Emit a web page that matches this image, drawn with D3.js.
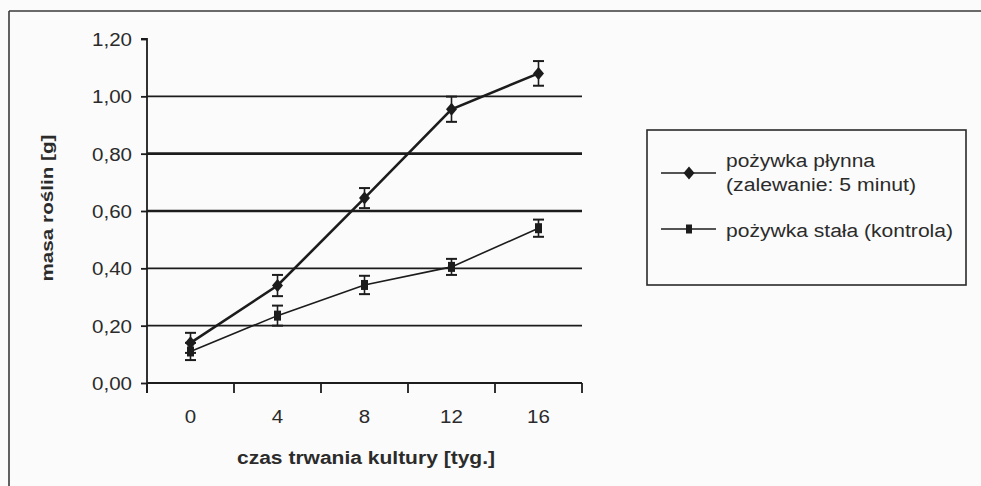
<!DOCTYPE html>
<html><head><meta charset="utf-8">
<script src="https://cdn.jsdelivr.net/npm/d3@7/dist/d3.min.js"></script>
<style>
html,body{margin:0;padding:0;background:#fbfbfb;}
svg{display:block;}
text{font-family:"Liberation Sans",Arial,sans-serif;fill:#2b2b2b;}
</style></head>
<body>
<svg id="chart" width="981" height="486"></svg>
<script>
const categories = ["0","4","8","12","16"];
const yTicks = [0,0.2,0.4,0.6,0.8,1.0,1.2];
const gridValues = [0.2,0.4,0.6,0.8,1.0];
const liquidValues = [0.14,0.34,0.645,0.955,1.08];
const liquidErrors = [0.035,0.037,0.035,0.044,0.043];
const solidValues = [0.11,0.235,0.342,0.405,0.54];
const solidErrors = [0.03,0.035,0.032,0.028,0.03];
const seriesNames = ["pożywka płynna", "(zalewanie: 5 minut)", "pożywka stała (kontrola)"];
const xTitle = "czas trwania kultury [tyg.]";
const yTitle = "masa roślin [g]";

const svg = d3.select("#chart");
const ink = "#1c1c1c";

// outer frame (top and left edges visible)
svg.append("line").attr("x1",9).attr("x2",981).attr("y1",11).attr("y2",11).attr("stroke","#3a3a3a").attr("stroke-width",1.6);
svg.append("line").attr("x1",9).attr("x2",9).attr("y1",11).attr("y2",486).attr("stroke","#3a3a3a").attr("stroke-width",1.6);

const x = d3.scaleBand().domain(categories).range([147,582]).padding(0);
const y = d3.scaleLinear().domain([0,1.2]).range([383,39]);

// gridlines
svg.append("g").selectAll("line").data(gridValues).join("line")
  .attr("x1",147).attr("x2",582)
  .attr("y1",d=>y(d)).attr("y2",d=>y(d))
  .attr("stroke",ink)
  .attr("stroke-width",d=>(Math.abs(d-0.6)<1e-6||Math.abs(d-0.8)<1e-6)?2.6:1.6);

// y axis
const yAxis = d3.axisLeft(y).tickValues(yTicks).tickSize(6).tickPadding(9)
  .tickFormat(d=>d3.format(".2f")(d).replace(".",","));
const gy = svg.append("g").attr("transform","translate(147,0)").call(yAxis);
gy.select(".domain").attr("stroke",ink).attr("stroke-width",1.8).attr("d","M-6,39H0V393");
gy.selectAll(".tick line").attr("stroke",ink).attr("stroke-width",1.8);
gy.selectAll(".tick text").attr("font-size",18).attr("fill","#2b2b2b").attr("dy","0.36em")
  .attr("textLength",40).attr("lengthAdjust","spacingAndGlyphs");

// x axis (ticks between categories)
const xTickPos = categories.map(c=>x(c)).concat([x.range()[1]]);
const gx = svg.append("g");
gx.append("line").attr("x1",147).attr("x2",582).attr("y1",y(0)).attr("y2",y(0)).attr("stroke",ink).attr("stroke-width",1.8);
gx.selectAll(".xt").data(xTickPos).join("line").attr("class","xt")
  .attr("x1",d=>d).attr("x2",d=>d).attr("y1",y(0)).attr("y2",y(0)+10)
  .attr("stroke",ink).attr("stroke-width",1.8);
gx.selectAll(".xl").data(categories).join("text").attr("class","xl")
  .attr("x",d=>x(d)+x.bandwidth()/2).attr("y",423)
  .attr("text-anchor","middle").attr("font-size",18).text(d=>d)
  .each(function(d){ d3.select(this).attr("textLength", d.length*11.4).attr("lengthAdjust","spacingAndGlyphs"); });

// titles
svg.append("text").attr("x",366).attr("y",464).attr("text-anchor","middle")
  .attr("font-size",18).attr("font-weight","bold")
  .attr("textLength",258).attr("lengthAdjust","spacingAndGlyphs").text(xTitle);
svg.append("text").attr("transform","translate(53,208) rotate(-90)").attr("text-anchor","middle")
  .attr("font-size",16).attr("font-weight","bold")
  .attr("textLength",147).attr("lengthAdjust","spacingAndGlyphs").text(yTitle);

const cx = c=>x(c)+x.bandwidth()/2;
const line = d3.line().x(d=>cx(d.c)).y(d=>y(d.v));

function drawSeries(vals, errs, lw, marker){
  const data = categories.map((c,i)=>({c, v:vals[i], e:errs[i]}));
  svg.append("path").datum(data).attr("d",line).attr("fill","none").attr("stroke",ink).attr("stroke-width",lw);
  const g = svg.append("g");
  data.forEach(d=>{
    const px = cx(d.c), top=y(d.v+d.e), bot=y(d.v-d.e);
    g.append("line").attr("x1",px).attr("x2",px).attr("y1",top).attr("y2",bot).attr("stroke",ink).attr("stroke-width",1.6);
    g.append("line").attr("x1",px-5.5).attr("x2",px+5.5).attr("y1",top).attr("y2",top).attr("stroke",ink).attr("stroke-width",2);
    g.append("line").attr("x1",px-5.5).attr("x2",px+5.5).attr("y1",bot).attr("y2",bot).attr("stroke",ink).attr("stroke-width",2);
    marker(g, px, y(d.v));
  });
}
const diamond = (g,px,py)=>g.append("path").attr("d",`M${px},${py-6.5}L${px+5.5},${py}L${px},${py+6.5}L${px-5.5},${py}Z`).attr("fill",ink);
const rect = (g,px,py)=>g.append("rect").attr("x",px-3.5).attr("y",py-5).attr("width",7).attr("height",10).attr("fill",ink);

drawSeries(solidValues, solidErrors, 1.6, rect);
drawSeries(liquidValues, liquidErrors, 2.6, diamond);

// legend
const lg = svg.append("g");
lg.append("rect").attr("x",647).attr("y",130).attr("width",319).attr("height",155)
  .attr("fill","none").attr("stroke","#2a2a2a").attr("stroke-width",1.6);
lg.append("line").attr("x1",661).attr("x2",716).attr("y1",173).attr("y2",173).attr("stroke",ink).attr("stroke-width",1.6);
diamond(lg,689,173);
lg.append("line").attr("x1",661).attr("x2",716).attr("y1",229).attr("y2",229).attr("stroke",ink).attr("stroke-width",1.6);
lg.append("rect").attr("x",686).attr("y",224.5).attr("width",6).attr("height",9).attr("fill",ink);
const lw = [149,190,227], ly=[167,191,237];
seriesNames.forEach((t,i)=>{
  lg.append("text").attr("x",726).attr("y",ly[i]).attr("font-size",18)
    .attr("textLength",lw[i]).attr("lengthAdjust","spacingAndGlyphs").text(t);
});
</script>
</body></html>
